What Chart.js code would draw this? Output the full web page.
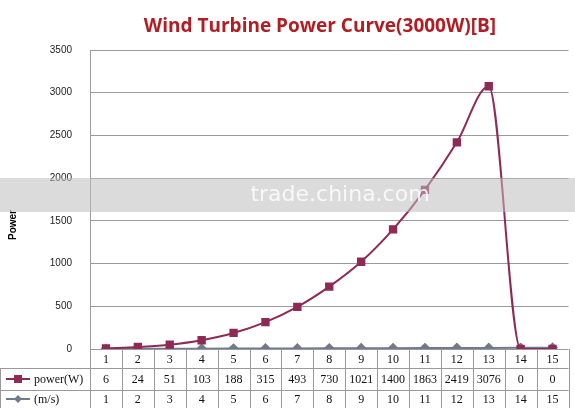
<!DOCTYPE html>
<html><head><meta charset="utf-8">
<script src="https://cdn.jsdelivr.net/npm/chart.js@4"></script>
<style>html,body{margin:0;background:#fff}#wrap{width:575px;height:408px}</style>
</head><body><div id="wrap"><canvas id="c"></canvas></div>
<script>
const labels = ['1','2','3','4','5','6','7','8','9','10','11','12','13','14','15'];
const power = [6, 24, 51, 103, 188, 315, 493, 730, 1021, 1400, 1863, 2419, 3076, 0, 0];
const speed = [1, 2, 3, 4, 5, 6, 7, 8, 9, 10, 11, 12, 13, 14, 15];
const yTicks = [0, 500, 1000, 1500, 2000, 2500, 3000, 3500];
const powerColor = '#8e2a55', speedColor = '#6f7a8c';

const extras = {
    id: 'extras',
    afterDraw(chart) {
        const ctx = chart.ctx, x = chart.scales.x, a = chart.chartArea;
        const w = (x.right - x.left) / labels.length;
        const rows = [a.bottom, a.bottom + 19, a.bottom + 41, a.bottom + 59];
        ctx.save();
        ctx.fillStyle = '#b01e24';
        ctx.font = 'bold 19px "Open Sans"';
        ctx.textAlign = 'center';
        ctx.textBaseline = 'middle';
        ctx.fillText('Wind Turbine Power Curve(3000W)[B]', 320, 27);
        ctx.save();
        ctx.translate(13, 225);
        ctx.rotate(-Math.PI / 2);
        ctx.fillStyle = '#000';
        ctx.font = 'bold 10px Arial, "Liberation Sans"';
        ctx.fillText('Power', 0, 0);
        ctx.restore();
        // table
        ctx.strokeStyle = '#999';
        ctx.lineWidth = 1;
        ctx.beginPath();
        for (let i = 0; i <= labels.length; i++) {
            const px = Math.round(x.left + i * w) + 0.5;
            ctx.moveTo(px, rows[0]); ctx.lineTo(px, rows[3]);
        }
        ctx.moveTo(0.5, rows[1]); ctx.lineTo(0.5, rows[3]);
        for (let r = 1; r < 4; r++) {
            ctx.moveTo(0, rows[r] + 0.5); ctx.lineTo(x.right, rows[r] + 0.5);
        }
        ctx.stroke();
        ctx.fillStyle = '#111';
        ctx.font = '12px "Liberation Serif", serif';
        [labels, power, speed].forEach((row, r) => {
            row.forEach((v, i) => {
                ctx.fillText(String(v), x.left + (i + 0.5) * w, (rows[r] + rows[r + 1]) / 2 + 1);
            });
        });
        const keys = [[powerColor, 'power(W)', 'rect'], [speedColor, '(m/s)', 'diamond']];
        keys.forEach((k, j) => {
            const cy = (rows[j + 1] + rows[j + 2]) / 2;
            ctx.strokeStyle = k[0]; ctx.lineWidth = 2;
            ctx.beginPath(); ctx.moveTo(6, cy); ctx.lineTo(30, cy); ctx.stroke();
            ctx.fillStyle = k[0];
            if (k[2] === 'rect') ctx.fillRect(14, cy - 4, 8, 8);
            else { ctx.beginPath(); ctx.moveTo(18, cy - 4); ctx.lineTo(22, cy); ctx.lineTo(18, cy + 4); ctx.lineTo(14, cy); ctx.fill(); }
            ctx.fillStyle = '#111'; ctx.textAlign = 'left';
            ctx.fillText(k[1], 34, cy + 1);
            ctx.textAlign = 'center';
        });
        // watermark band
        ctx.fillStyle = 'rgba(190,190,190,0.55)';
        ctx.fillRect(0, 178, 575, 34);
        ctx.fillStyle = 'rgba(255,255,255,0.8)';
        ctx.font = '22px "DejaVu Sans"';
        ctx.fillText('trade.china.com', 340, 195);
        ctx.restore();
    }
};

new Chart(document.getElementById('c'), {
    type: 'line',
    data: {
        labels: labels,
        datasets: [{
            label: 'power(W)',
            data: power,
            borderColor: powerColor,
            backgroundColor: powerColor,
            borderWidth: 2,
            pointStyle: 'rect',
            pointRadius: 4.5,
            cubicInterpolationMode: 'monotone'
        }, {
            label: '(m/s)',
            data: speed,
            borderColor: speedColor,
            backgroundColor: speedColor,
            borderWidth: 2,
            pointStyle: 'rectRot',
            pointRadius: 4
        }]
    },
    options: {
        responsive: true,
        maintainAspectRatio: false,
        animation: false,
        layout: { padding: { top: 50, bottom: 59, right: 0, left: 0 } },
        plugins: { legend: { display: false }, tooltip: { enabled: false } },
        scales: {
            x: { display: false, offset: true },
            y: {
                min: 0, max: 3500,
                afterBuildTicks: s => { s.ticks = yTicks.map(v => ({ value: v })); },
                afterFit: s => { s.width = 90; },
                grid: { color: '#9a9a9a', drawTicks: false },
                border: { color: '#9a9a9a' },
                ticks: { color: '#222', padding: 18, callback: v => String(v), font: { family: 'Arial, "Liberation Sans"', size: 10 } }
            }
        }
    },
    plugins: [extras]
});
</script>
</body></html>
